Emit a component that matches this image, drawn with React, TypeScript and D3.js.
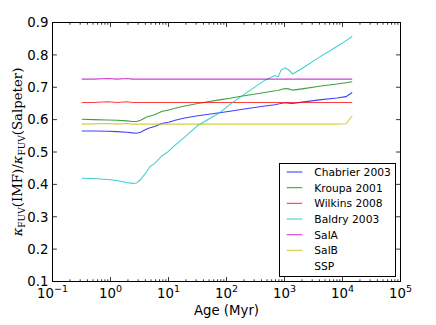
import * as d3 from 'd3';
import { useEffect, useRef } from 'react';

// ages in Myr
const ages = [0.32, 0.5, 0.9, 1.3, 1.9, 2.4, 2.8, 3.3, 4.2, 4.8, 5.8, 7.6, 10, 13, 19, 32, 76, 115, 190, 460, 680, 780, 870, 1020, 1170, 1390, 2000, 4000, 8000, 11500, 14700];

const chabrier = [0.565, 0.565, 0.564, 0.563, 0.561, 0.559, 0.558, 0.561, 0.571, 0.575, 0.579, 0.588, 0.592, 0.598, 0.605, 0.612, 0.621, 0.626, 0.632, 0.642, 0.646, 0.648, 0.65, 0.652, 0.651, 0.65, 0.654, 0.661, 0.667, 0.671, 0.684];
const kroupa = [0.601, 0.6, 0.599, 0.598, 0.596, 0.594, 0.594, 0.598, 0.608, 0.611, 0.615, 0.625, 0.63, 0.635, 0.642, 0.65, 0.661, 0.666, 0.673, 0.684, 0.689, 0.69, 0.693, 0.696, 0.695, 0.691, 0.695, 0.703, 0.71, 0.714, 0.717];
const wilkins = [0.653, 0.653, 0.655, 0.653, 0.655, 0.653, 0.653, 0.653, 0.653, 0.653, 0.653, 0.653, 0.653, 0.653, 0.653, 0.653, 0.653, 0.653, 0.653, 0.653, 0.653, 0.653, 0.653, 0.653, 0.653, 0.653, 0.653, 0.653, 0.653, 0.653, 0.653];
const baldry = [0.419, 0.418, 0.415, 0.412, 0.406, 0.403, 0.404, 0.415, 0.439, 0.455, 0.465, 0.487, 0.502, 0.521, 0.546, 0.582, 0.621, 0.647, 0.675, 0.722, 0.736, 0.732, 0.753, 0.76, 0.754, 0.741, 0.758, 0.793, 0.826, 0.844, 0.857];
const salA = [0.725, 0.725, 0.727, 0.725, 0.727, 0.725, 0.725, 0.725, 0.725, 0.725, 0.725, 0.725, 0.725, 0.725, 0.725, 0.725, 0.725, 0.725, 0.725, 0.725, 0.725, 0.725, 0.725, 0.725, 0.725, 0.725, 0.725, 0.725, 0.725, 0.725, 0.725];
const salB = [0.586, 0.587, 0.588, 0.586, 0.588, 0.586, 0.586, 0.586, 0.586, 0.586, 0.586, 0.586, 0.586, 0.586, 0.586, 0.586, 0.586, 0.586, 0.586, 0.586, 0.586, 0.586, 0.586, 0.586, 0.586, 0.586, 0.586, 0.586, 0.586, 0.587, 0.612];

const seriesNames = ['Chabrier 2003', 'Kroupa 2001', 'Wilkins 2008', 'Baldry 2003', 'SalA', 'SalB', 'SSP'];
const seriesValues = [chabrier, kroupa, wilkins, baldry, salA, salB];
const colors = ['#0000ff', '#008000', '#ff0000', '#00bfbf', '#bf00bf', '#bfbf00', 'white'];

const yTicks = [0.1, 0.2, 0.3, 0.4, 0.5, 0.6, 0.7, 0.8, 0.9];
const xExponents = [-1, 0, 1, 2, 3, 4, 5];

function App() {
    const svgRef = useRef<SVGSVGElement>(null);

    useEffect(() => {
        const w = 436;
        const h = 325;
        const left = 52.5;
        const right = 400.5;
        const top = 22.5;
        const bottom = 281.5;
        const font = 'DejaVu Sans, sans-serif';

        d3.select(svgRef.current).selectAll('*').remove();
        const svg = d3.select(svgRef.current).attr('width', w).attr('height', h);

        const x = d3.scaleLog().domain([0.1, 1e5]).range([left, right]);
        const y = d3.scaleLinear().domain([0.1, 0.9]).range([bottom, top]);

        svg.append('rect').attr('width', w).attr('height', h).attr('fill', 'white');

        // series
        const line = d3
            .line<number>()
            .x((_, i) => x(ages[i]))
            .y((d) => y(d));

        seriesValues.forEach((vals, i) => {
            svg.append('path')
                .datum(vals)
                .attr('d', line)
                .attr('fill', 'none')
                .attr('stroke', colors[i])
                .attr('stroke-opacity', 0.75)
                .attr('stroke-width', 1.1);
        });

        // ticks (inside, all four sides)
        const tk = svg.append('g').attr('stroke', 'black').attr('stroke-width', 0.8);
        xExponents.forEach((e) => {
            const xv = x(Math.pow(10, e));
            tk.append('line').attr('x1', xv).attr('x2', xv).attr('y1', bottom).attr('y2', bottom - 4.4);
            tk.append('line').attr('x1', xv).attr('x2', xv).attr('y1', top).attr('y2', top + 4.4);
            if (e < 5) {
                for (let m = 2; m <= 9; m++) {
                    const xm = x(m * Math.pow(10, e));
                    tk.append('line').attr('x1', xm).attr('x2', xm).attr('y1', bottom).attr('y2', bottom - 2.2);
                    tk.append('line').attr('x1', xm).attr('x2', xm).attr('y1', top).attr('y2', top + 2.2);
                }
            }
        });
        yTicks.forEach((t) => {
            const yv = y(t);
            tk.append('line').attr('x1', left).attr('x2', left + 4.4).attr('y1', yv).attr('y2', yv);
            tk.append('line').attr('x1', right).attr('x2', right - 4.4).attr('y1', yv).attr('y2', yv);
        });

        // frame
        svg.append('rect')
            .attr('x', left)
            .attr('y', top)
            .attr('width', right - left)
            .attr('height', bottom - top)
            .attr('fill', 'none')
            .attr('stroke', 'black')
            .attr('stroke-width', 1);

        // y tick labels
        yTicks.forEach((t) => {
            svg.append('text')
                .attr('x', left - 4)
                .attr('y', y(t))
                .attr('dy', '0.36em')
                .attr('text-anchor', 'end')
                .attr('font-family', font)
                .attr('font-size', 13.3)
                .text(d3.format('.1f')(t));
        });

        // x tick labels
        xExponents.forEach((e) => {
            const t = svg.append('text')
                .attr('x', x(Math.pow(10, e)))
                .attr('y', 297.5)
                .attr('text-anchor', 'middle')
                .attr('font-family', font)
                .attr('font-size', 13.3);
            t.append('tspan').text('10');
            t.append('tspan').attr('dy', -6).attr('font-size', 9.5).text(e < 0 ? `\u2212${-e}` : `${e}`);
        });

        // axis labels
        svg.append('text')
            .attr('x', (left + right) / 2)
            .attr('y', 314.5)
            .attr('text-anchor', 'middle')
            .attr('font-family', font)
            .attr('font-size', 13.3)
            .text('Age (Myr)');

        const yl = svg.append('text')
            .attr('transform', `translate(22, ${(top + bottom) / 2}) rotate(-90)`)
            .attr('text-anchor', 'middle')
            .attr('font-family', 'DejaVu Serif, serif')
            .attr('font-size', 13.3);
        yl.append('tspan').attr('font-style', 'italic').text('\u03ba');
        yl.append('tspan').attr('font-size', 9).attr('dy', 3).text('FUV');
        yl.append('tspan').attr('dy', -3).text('(IMF)/');
        yl.append('tspan').attr('font-style', 'italic').text('\u03ba');
        yl.append('tspan').attr('font-size', 9).attr('dy', 3).text('FUV');
        yl.append('tspan').attr('dy', -3).text('(Salpeter)');

        // legend
        const lg = svg.append('g');
        lg.append('rect')
            .attr('x', 279.5)
            .attr('y', 163.5)
            .attr('width', 116)
            .attr('height', 113)
            .attr('fill', 'white')
            .attr('stroke', 'black')
            .attr('stroke-width', 1);
        seriesNames.forEach((name, i) => {
            const ly = 172 + i * 15.67;
            lg.append('line')
                .attr('x1', 286.7)
                .attr('x2', 302.3)
                .attr('y1', ly)
                .attr('y2', ly)
                .attr('stroke', colors[i])
                .attr('stroke-opacity', 0.75)
                .attr('stroke-width', 1.1);
            lg.append('text')
                .attr('x', 314.3)
                .attr('y', ly)
                .attr('dy', '0.36em')
                .attr('font-family', font)
                .attr('font-size', 10.7)
                .text(name);
        });
    }, []);

    return <svg ref={svgRef} style={{ position: 'absolute', left: 0, top: 0 }}></svg>;
}

export default App;
